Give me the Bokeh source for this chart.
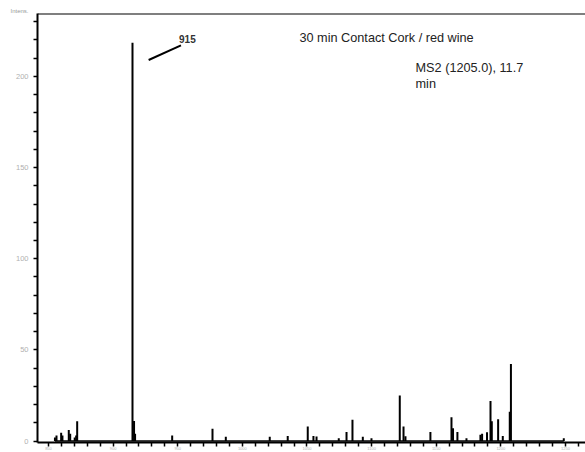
from bokeh.plotting import figure
from bokeh.models import Range1d, FixedTicker, Label, Span
from bokeh.embed import file_html
from bokeh.resources import INLINE

# ---- data (m/z, intensity) ----
mz = [855.0, 856.2, 859.8, 860.8, 865.7, 866.8, 870.3, 871.4, 872.2,
      915.0, 916.2, 917.0, 945.7, 976.9, 987.2, 1021.2, 1035.1,
      1050.6, 1055.0, 1057.4, 1074.6, 1080.6, 1085.2, 1093.2, 1099.9,
      1121.8, 1124.7, 1126.2, 1145.5, 1161.8, 1163.0, 1166.4, 1173.4,
      1184.2, 1185.5, 1189.3, 1192.0, 1193.0, 1197.9, 1201.5, 1206.9,
      1207.8, 1248.7]
intens = [2.0, 3.0, 4.5, 3.0, 6.0, 4.0, 2.0, 3.0, 10.8,
          218.5, 11.0, 4.0, 3.0, 6.8, 2.3, 2.3, 2.8,
          8.0, 2.8, 2.5, 1.5, 4.9, 11.7, 2.4, 1.5,
          25.0, 8.0, 2.6, 4.9, 13.1, 7.0, 4.9, 1.5,
          3.5, 4.0, 4.8, 22.0, 10.8, 12.0, 2.8, 16.0,
          42.3, 1.5]

x_ticks = [850, 900, 950, 1000, 1050, 1100, 1150, 1200, 1250]
x_minor = [v for v in range(840, 1270, 10) if v % 50 != 0]
y_ticks = [0, 50, 100, 150, 200]
y_minor = [v for v in range(0, 240, 10) if v % 50 != 0]

title_text = "30 min Contact  Cork / red wine"
ms_text = "MS2 (1205.0), 11.7"
ms_text2 = "min"
peak_label = "915"
y_title = "Intens."

FONT = "Liberation Sans"

p = figure(width=585, height=452, output_backend="svg", toolbar_location=None,
           x_range=Range1d(841.5, 1265.5), y_range=Range1d(-0.8, 234.5),
           min_border_left=37, min_border_right=0, min_border_top=13,
           min_border_bottom=0)
p.grid.visible = False
p.outline_line_color = None
p.background_fill_color = "white"
p.border_fill_color = "white"

# y-axis title shown at the top-left, as in the reference
p.title.text = y_title
p.title.text_font = FONT
p.title.text_font_size = "6px"
p.title.text_font_style = "normal"
p.title.text_color = "#999999"
p.title.align = "left"
p.title.offset = -27
p.title.standoff = 0

# axes
for ax in (p.xaxis[0], p.yaxis[0]):
    ax.axis_line_color = "black"
    ax.axis_line_width = 2
    ax.major_tick_line_color = "black"
    ax.minor_tick_line_color = "black"
    ax.major_tick_line_width = 1.5
    ax.minor_tick_line_width = 1.5
    ax.major_tick_in = 0
    ax.minor_tick_in = 0
    ax.major_tick_out = 4
    ax.minor_tick_out = 4
    ax.major_label_text_color = "#b0b0b0"
    ax.major_label_text_font = FONT

p.xaxis.ticker = FixedTicker(ticks=x_ticks, minor_ticks=x_minor)
p.yaxis.ticker = FixedTicker(ticks=y_ticks, minor_ticks=y_minor)
p.xaxis.major_label_text_font_size = "4px"
p.xaxis.major_label_standoff = 0
p.yaxis.major_label_text_font_size = "7.5px"
p.yaxis.major_label_standoff = 5

# top border line
p.add_layout(Span(location=234.5, dimension="width", line_color="black", line_width=2))

# baseline
p.line(x=[min(mz), max(mz)], y=[0, 0], line_color="black", line_width=1.5)

# peaks
p.segment(x0=mz, y0=[0] * len(mz), x1=mz, y1=intens, line_color="black", line_width=2)

# peak annotation with leader line
i_max = intens.index(max(intens))
pk_x, pk_y = mz[i_max], intens[i_max]
p.segment(x0=[pk_x + 12.5], y0=[pk_y - 9.5], x1=[pk_x + 37.5], y1=[pk_y - 1.5],
          line_color="black", line_width=2)
p.add_layout(Label(x=pk_x + 36, y=pk_y + 2.0, text=peak_label, text_font=FONT,
                   text_font_size="10px", text_font_style="bold", text_color="#333333",
                   text_baseline="middle", text_align="left"))

# text annotations
p.add_layout(Label(x=1044.2, y=221.0, text=title_text, text_font=FONT,
                   text_font_size="12.7px", text_color="#222222",
                   text_baseline="middle", text_align="left"))
p.add_layout(Label(x=1134.0, y=204.5, text=ms_text, text_font=FONT,
                   text_font_size="12.7px", text_color="#222222",
                   text_baseline="middle", text_align="left"))
p.add_layout(Label(x=1134.0, y=196.0, text=ms_text2, text_font=FONT,
                   text_font_size="12.7px", text_color="#222222",
                   text_baseline="middle", text_align="left"))

open("out.html", "w").write(file_html(p, INLINE))
